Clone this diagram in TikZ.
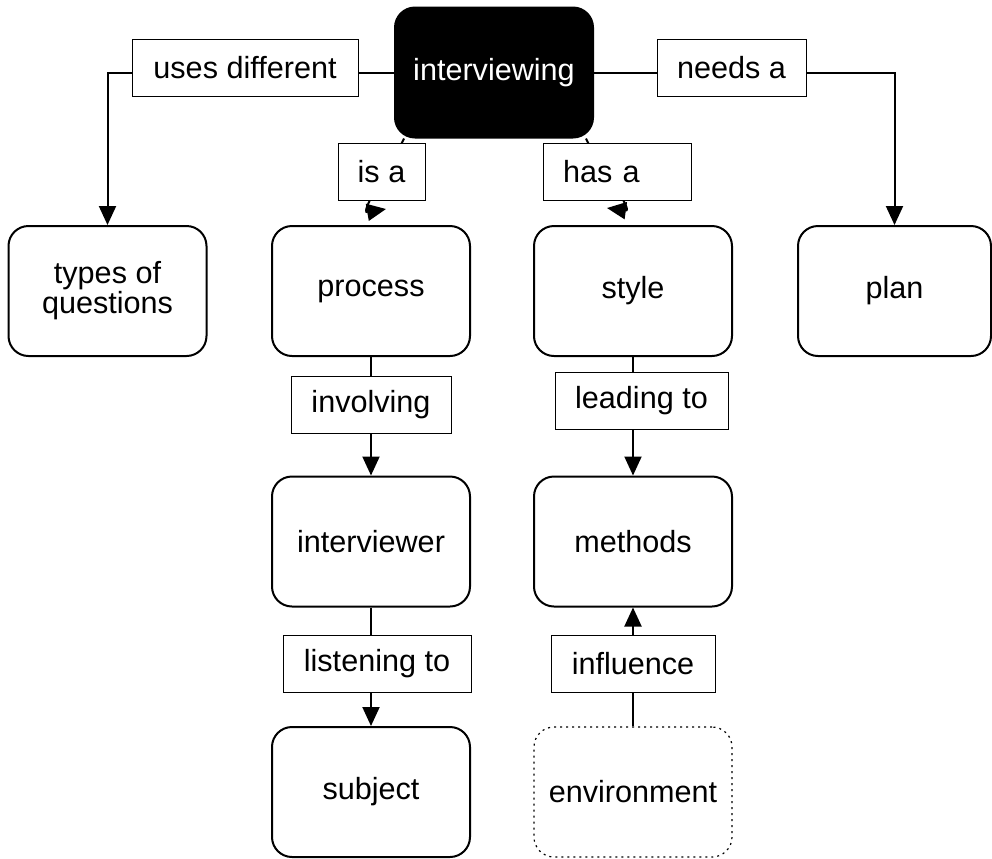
\documentclass[tikz,border=0pt]{standalone}
\usepackage{fontspec}
\setmainfont{Liberation Sans}
\usetikzlibrary{arrows.meta, calc}

\begin{document}
\begin{tikzpicture}[x=0.5pt,y=-0.5pt,>={Triangle[length=9.5pt,width=8.5pt]},
  font=\fontsize{15.3pt}{15pt}\selectfont,
  concept/.style={draw, line width=1pt, rounded corners=10pt, minimum width=99pt, minimum height=65pt, align=center, inner sep=2pt},
  focus/.style={concept, fill=black, text=white},
  envbox/.style={concept, dotted, line width=0.6pt},
  linkbox/.style={draw, line width=0.5pt, fill=white, minimum height=28.5pt, inner sep=2pt},
  link/.style={line width=1pt}]
  \useasboundingbox (0,0) rectangle (992,858);

  \node[focus] (interviewing) at (494,72.5) {interviewing}; % 中心の概念
  \node[concept] (types) at (107.5,291) {types of\\questions};
  \node[concept] (process) at (371,291) {process};
  \node[concept] (style) at (633,291) {style};
  \node[concept, minimum width=96.5pt] (plan) at (894.5,291) {plan};
  \node[concept] (interviewer) at (371,541.5) {interviewer};
  \node[concept] (methods) at (633,541.5) {methods};
  \node[concept] (subject) at (371,792) {subject};
  \node[envbox] (environment) at (633,792) {environment}; % 点線の枠

  % 斜めの矢印。ラベルの下に隠れるので先に描く
  \coordinate (isa-in) at ([xshift=5pt]interviewing.south west);
  \coordinate (isa-tip) at (386,209);
  \draw[link,->] (isa-in) to[out=-115,in=190] (isa-tip);
  \coordinate (hasa-in) at ([xshift=-4pt]interviewing.south east);
  \coordinate (hasa-tip) at (607,208);
  \draw[link,->] (hasa-in) to[out=-65,in=-8] (hasa-tip);

  \node[linkbox, minimum width=113pt] (usesdiff) at (245,67.5) {uses different}; % リンクのラベル
  \node[linkbox, minimum width=74.5pt] (needsa) at (731.5,67.5) {needs a};
  \node[linkbox, minimum width=43.5pt] (isa) at (381.5,171.5) {is a};
  \node[linkbox, text width=54pt, align=left, inner xsep=10pt] (hasa) at (617,171.5) {has a};
  \node[linkbox, minimum width=80pt] (involving) at (371,404.5) {involving};
  \node[linkbox, minimum width=86.5pt] (leadingto) at (641.5,401) {leading to};
  \node[linkbox, minimum width=94pt] (listening) at (377,664) {listening to};
  \node[linkbox, minimum width=82pt] (influence) at (633,664) {influence};

  \draw[link] (interviewing.west) -- (interviewing.west -| usesdiff.east);
  \draw[link,->] (interviewing.west -| usesdiff.west) -| (types.north);
  \draw[link] (interviewing.east) -- (interviewing.east -| needsa.west);
  \draw[link,->] (interviewing.east -| needsa.east) -| (plan.north);

  \draw[link] (process) -- (involving);
  \draw[link,->] (involving) -- (interviewer);
  \draw[link] (style) -- (style |- leadingto.north);
  \draw[link,->] (style |- leadingto.south) -- (methods);
  \draw[link] (interviewer) -- (interviewer |- listening.north);
  \draw[link,->] (interviewer |- listening.south) -- (subject);
  \draw[link] (environment) -- (influence);
  \draw[link,->] (influence) -- (methods); % 下から上へ
\end{tikzpicture}
\end{document}
